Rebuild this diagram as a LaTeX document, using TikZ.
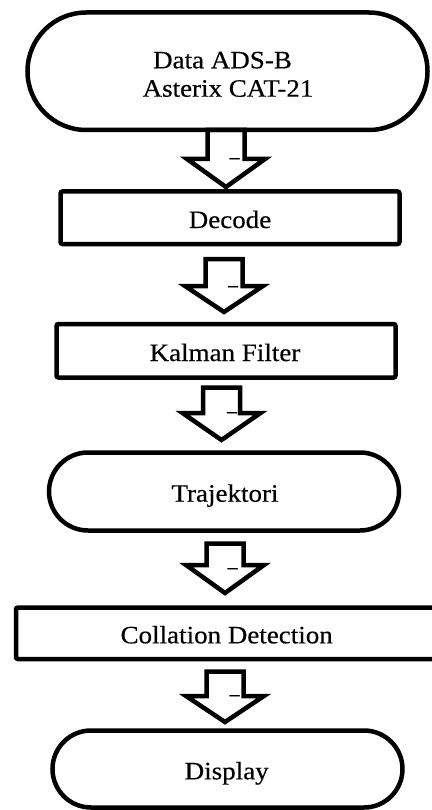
\documentclass[tikz,border=0pt]{standalone}
\usepackage{fontspec}
\setmainfont{Liberation Serif}[FakeStretch=1.08,FakeBold=0.4]
\usetikzlibrary{shapes.misc,calc}
\newcommand\blockarrow[3]{%
  \draw[arrowline] let \p1=(#1), \p2=(#2) in
  (\x1-18.5pt,\y1) -- (\x1-18.5pt,\y2+#3) -- (\x1-39pt,\y2+#3) -- (\x2,\y2)
  -- (\x1+39pt,\y2+#3) -- (\x1+18.5pt,\y2+#3) -- (\x1+18.5pt,\y1) -- cycle;}
\begin{document}
\begin{tikzpicture}[x=1pt,y=-1pt,
  term/.style={rounded rectangle, draw, line width=4.5pt, inner sep=0pt},
  procbox/.style={rectangle, draw, line width=4.5pt, rounded corners=2pt, inner sep=0pt},
  lbl/.style={anchor=base, inner sep=0pt, font=\fontsize{25}{30}\selectfont},
  dashmark/.style={anchor=base, inner sep=0pt, font=\fontsize{18}{18}\selectfont\bfseries},
  arrowline/.style={line width=4.5pt, line join=miter}]
\useasboundingbox (0,0) rectangle (431,810);
% shapes
\node[term, minimum width=400pt, minimum height=117.5pt] (n1) at (227.5,71.25) {};
\node[procbox, minimum width=339pt, minimum height=52.5pt] (n2) at (230,217.75) {};
\node[procbox, minimum width=339pt, minimum height=53.5pt] (n3) at (226,350.75) {};
\node[term, minimum width=350pt, minimum height=78pt] (n4) at (224,491.5) {};
\node[procbox, minimum width=422pt, minimum height=51.5pt] (n5) at (227,633.25) {};
\node[term, minimum width=350pt, minimum height=77pt] (n6) at (227.5,769) {};
% texts
\node[lbl] (t1a) at (222.5,68.3) {Data ADS-B};
\node[lbl] (t1b) at (228,96.7) {Asterix CAT-21};
\node[lbl] (t2) at (230,228) {Decode};
\node[lbl] (t3) at (225,361) {Kalman Filter};
\node[lbl] (t4) at (225,501.7) {Trajektori};
\node[lbl] (t5) at (226.7,643.3) {Collation Detection};
\node[lbl] (t6) at (226.7,779.3) {Display};
% arrow coordinates
\coordinate (a1s) at (226,130);   \coordinate (a1e) at (226,187);
\coordinate (a2s) at (224,259);   \coordinate (a2e) at (224,312);
\coordinate (a3s) at (221.5,387.5); \coordinate (a3e) at (221.5,440);
\coordinate (a4s) at (225,543.5); \coordinate (a4e) at (225,593);
\coordinate (a5s) at (225,671.5); \coordinate (a5e) at (225,722);
\blockarrow{a1s}{a1e}{28pt}
\blockarrow{a2s}{a2e}{26pt}
\blockarrow{a3s}{a3e}{27pt}
\blockarrow{a4s}{a4e}{28pt}
\blockarrow{a5s}{a5e}{26pt}
% small marks inside arrows
\node[dashmark] (m1) at (234.5,163) {–};
\node[dashmark] (m2) at (233,291) {–};
\node[dashmark] (m3) at (232,417) {–};
\node[dashmark] (m4) at (232.5,573) {–};
\node[dashmark] (m5) at (234.5,700) {–};
\end{tikzpicture}
\end{document}
